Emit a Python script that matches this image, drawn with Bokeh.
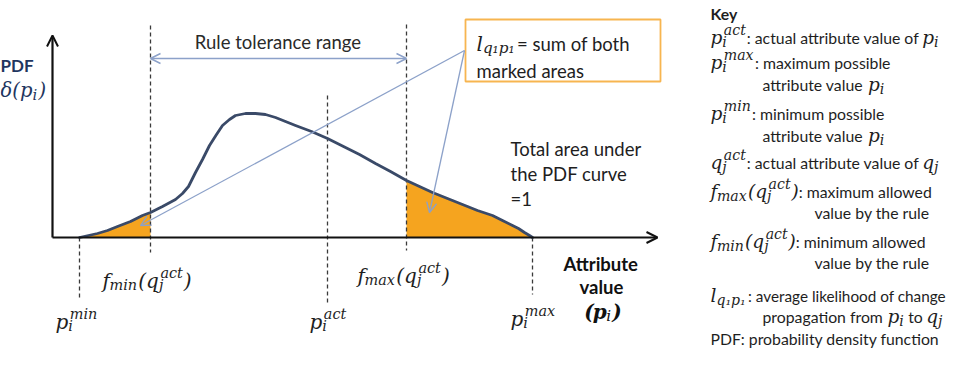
from bokeh.plotting import figure
from bokeh.models import Arrow, OpenHead
from bokeh.core.properties import value
from bokeh.embed import file_html
from bokeh.resources import INLINE

# ---------------- data (diagram units: attribute value / PDF height) ----------------
curve_x = [27, 36, 45, 55, 65, 78, 90, 98, 110, 123, 130, 136, 143, 150, 157, 164, 170, 177,
           183, 193, 203, 213, 223, 233, 243, 259, 275, 291, 307, 323, 338, 354, 367, 380,
           395, 410, 425, 440, 450, 460, 466, 472, 477, 480]
curve_y = [0, 2, 4, 7, 11, 16, 22, 25, 31, 38, 44, 51, 65, 78, 92, 103, 112, 118,
           122, 124, 124, 123, 120, 116, 112, 106, 99, 91, 83, 74, 66, 57, 51, 45,
           39, 33, 27, 22, 17, 12, 9, 5, 2, 0]
p_min_x = 27
f_min_x = 98
p_act_x = 275
f_max_x = 354
p_max_x = 480

box_lines = ["= sum of both", "marked areas"]
total_lines = ["Total area under", "the PDF curve", "=1"]
rule_label = "Rule tolerance range"
xaxis_lines = ["Attribute", "value"]
key_desc = [
    ": actual attribute value of ",
    ": maximum possible", "attribute value ",
    ": minimum possible", "attribute value ",
    ": actual attribute value of ",
    ": maximum allowed", "value by the rule",
    ": minimum allowed", "value by the rule",
    ": average likelihood of change", "propagation from ", " to ",
    "PDF: probability density function",
]

# ---------------- styles ----------------
SANS = "Lato"
SERIF = "DejaVu Serif"
TXT = "#1e1e1e"
NAVY = "#1f3660"
ORANGE = "#f5a41f"
BOXC = "#f7b550"
CURVE = "#3a4a68"
POINT = "#8ca1c9"
DASH = "#3a3a3a"

LATO_W = {' ': .20, 'a': .50, 'b': .56, 'c': .46, 'd': .56, 'e': .52, 'f': .32, 'g': .50, 'h': .56,
          'i': .24, 'j': .24, 'k': .50, 'l': .24, 'm': .84, 'n': .56, 'o': .56, 'p': .56, 'q': .56,
          'r': .37, 's': .43, 't': .35, 'u': .56, 'v': .52, 'w': .79, 'x': .50, 'y': .52, 'z': .46,
          ':': .26, '=': .58, 'P': .60, 'D': .71, 'F': .52, 'K': .64, 'R': .62, 'T': .56, 'A': .68,
          '1': .58, '(': .30, ')': .30}
DJV_W = {'a': .60, 'c': .56, 't': .40, 'f': .35, 'm': .95, 'i': .34, 'n': .64, 'x': .59, 'q': .64,
         'p': .64, 'j': .32, 'l': .32, 'δ': .61, '(': .39, ')': .39, '₁': .45, ' ': .32}


def text_w(t, kind, size):
    if kind in ("n", "b"):
        w = sum(LATO_W.get(c, .52) for c in t) * size * 1.02
        return w * (1.04 if kind == "b" else 1.0)
    return sum(DJV_W.get(c, .60) for c in t) * size


W, H = 953, 349
p = figure(width=W, height=H, x_range=(-52, 901), y_range=(-112, 237),
           output_backend="svg", toolbar_location=None, title=None,
           x_axis_type=None, y_axis_type=None, min_border=0)
p.outline_line_color = None
p.background_fill_color = "white"


def rich(x, y, parts, size=16, msize=18.5, color=TXT, align="left", ratio=0.76):
    pieces = []
    cx = 0.0
    for kind, t in parts:
        if kind in ("n", "b"):
            lead = len(t) - len(t.lstrip(" "))
            pieces.append((cx + text_w(" " * lead, kind, size), 0, t.strip(" "), SANS, size,
                           "bold" if kind == "b" else "normal"))
            cx += text_w(t, kind, size)
        elif kind in ("i", "bi"):
            pieces.append((cx, 0, t, SERIF, msize, "bold italic" if kind == "bi" else "italic"))
            cx += text_w(t, "i", msize) * (1.06 if kind == "bi" else 1.0)
        elif kind == "sub":
            s = msize * ratio
            pieces.append((cx, -0.24 * msize, t, SERIF, s, "italic"))
            cx += text_w(t, "i", s) + 1
        elif kind == "ss":
            sup, sb = t
            s = msize * ratio
            pieces.append((cx + 1.5, 0.40 * msize, sup, SERIF, s, "italic"))
            pieces.append((cx, -0.24 * msize, sb, SERIF, s, "italic"))
            cx += max(text_w(sup, "i", s) + 1.5, text_w(sb, "i", s)) + 1
    x0 = x - cx / 2 if align == "center" else x
    base = y - 0.33 * size
    for dx, dy, t, f, fs, st in pieces:
        p.text(x=[x0 + dx], y=[base + dy], text=[t], text_font=value(f),
               text_font_size=f"{fs:.1f}px", text_font_style=st, text_color=color,
               text_align="left", text_baseline="alphabetic")
    return cx


# shaded tails
lx = [x for x in curve_x if x <= f_min_x]
ly = [y for x, y in zip(curve_x, curve_y) if x <= f_min_x]
rx = [x for x in curve_x if x >= f_max_x]
ry = [y for x, y in zip(curve_x, curve_y) if x >= f_max_x]
p.varea(x=lx, y1=[0] * len(lx), y2=ly, fill_color=ORANGE)
p.varea(x=rx, y1=[0] * len(rx), y2=ry, fill_color=ORANGE)

# dashed markers
p.segment(x0=[f_min_x, f_max_x, p_act_x, p_min_x, p_max_x],
          y0=[212, 213, 142, 0, 0],
          x1=[f_min_x, f_max_x, p_act_x, p_min_x, p_max_x],
          y1=[-15, -13, -65, -62, -57],
          line_color=DASH, line_width=1.3, line_dash="4 3")

# axes with arrow heads
p.add_layout(Arrow(end=OpenHead(size=11, line_color="#111111", line_width=2),
                   x_start=0, y_start=0, x_end=605, y_end=0,
                   line_color="#111111", line_width=2.2))
p.add_layout(Arrow(end=OpenHead(size=11, line_color="#111111", line_width=2),
                   x_start=0, y_start=0, x_end=0, y_end=202,
                   line_color="#111111", line_width=2.2))

# PDF curve
p.line(curve_x, curve_y, line_color=CURVE, line_width=2.8, line_join="round", line_cap="round")

# rule tolerance range arrow
p.add_layout(Arrow(start=OpenHead(size=10, line_color=POINT, line_width=1.4),
                   end=OpenHead(size=10, line_color=POINT, line_width=1.4),
                   x_start=f_min_x, y_start=179, x_end=f_max_x, y_end=179,
                   line_color=POINT, line_width=1.4))

# box
p.quad(left=[413], right=[608], bottom=[156], top=[218], fill_color="white",
       line_color=BOXC, line_width=1.8)

# pointers from box
for xe, ye in [(88, 12), (377, 25)]:
    p.add_layout(Arrow(end=OpenHead(size=10, line_color=POINT, line_width=1.3),
                       x_start=412, y_start=187, x_end=xe, y_end=ye,
                       line_color=POINT, line_width=1.3))

# ---------------- texts in diagram ----------------
DS = 18.5
rich(-52, 178, [("b", "PDF")], size=17, color=NAVY)
rich(-52, 153, [("i", "δ("), ("i", "p"), ("sub", "i"), ("i", ")")], size=17, msize=19.5, color=NAVY)
rich(226, 202, [("n", rule_label)], size=DS, align="center", color="#2a2a2a")
rich(424, 200, [("i", "l"), ("sub", "q₁p₁"), ("n", box_lines[0])], size=DS, msize=20)
rich(424, 173, [("n", box_lines[1])], size=DS)
for i, t in enumerate(total_lines):
    rich(458, 95 - 25 * i, [("n", t)], size=DS)
rich(550, -20, [("b", xaxis_lines[0])], size=DS, align="center", color="#111111")
rich(550, -43, [("b", xaxis_lines[1])], size=DS, align="center", color="#111111")
rich(550, -68, [("bi", "("), ("bi", "p"), ("sub", "i"), ("bi", ")")], size=DS, msize=20,
     align="center", color="#111111")

rich(50, -37, [("i", "f"), ("sub", "min"), ("i", "("), ("i", "q"), ("ss", ("act", "j")), ("i", ")")],
     size=DS, msize=20, ratio=0.72)
rich(305, -32, [("i", "f"), ("sub", "max"), ("i", "("), ("i", "q"), ("ss", ("act", "j")), ("i", ")")],
     size=DS, msize=20, ratio=0.72)
rich(3, -78, [("i", "p"), ("ss", ("min", "i"))], size=DS, msize=20, ratio=0.72)
rich(257, -78, [("i", "p"), ("ss", ("act", "i"))], size=DS, msize=20, ratio=0.72)
rich(458, -75, [("i", "p"), ("ss", ("max", "i"))], size=DS, msize=20, ratio=0.72)

# ---------------- key ----------------
KS = 15.8
KX, KI, KI2 = 658, 710, 762
rich(KX, 229, [("b", "Key")], size=KS)
rich(KX, 205, [("i", "p"), ("ss", ("act", "i")), ("n", key_desc[0]), ("i", "p"), ("sub", "i")], size=KS)
rich(KX, 180, [("i", "p"), ("ss", ("max", "i")), ("n", key_desc[1])], size=KS)
rich(KI, 158, [("n", key_desc[2]), ("i", "p"), ("sub", "i")], size=KS)
rich(KX, 129, [("i", "p"), ("ss", ("min", "i")), ("n", key_desc[3])], size=KS)
rich(KI, 107, [("n", key_desc[4]), ("i", "p"), ("sub", "i")], size=KS)
rich(KX, 80, [("i", "q"), ("ss", ("act", "j")), ("n", key_desc[5]), ("i", "q"), ("sub", "j")], size=KS)
rich(KX, 51, [("i", "f"), ("sub", "max"), ("i", "("), ("i", "q"), ("ss", ("act", "j")), ("i", ")"),
              ("n", key_desc[6])], size=KS)
rich(KI2, 30, [("n", key_desc[7])], size=KS)
rich(KX, 1, [("i", "f"), ("sub", "min"), ("i", "("), ("i", "q"), ("ss", ("act", "j")), ("i", ")"),
             ("n", key_desc[8])], size=KS)
rich(KI2, -20, [("n", key_desc[9])], size=KS)
rich(KX, -53, [("i", "l"), ("sub", "q₁p₁"), ("n", key_desc[10])], size=15.3)
rich(KI, -74, [("n", key_desc[11]), ("i", "p"), ("sub", "i"), ("n", key_desc[12]), ("i", "q"), ("sub", "j")],
     size=KS)
rich(KX, -96, [("n", key_desc[13])], size=KS)

open("out.html", "w").write(file_html(p, INLINE))
